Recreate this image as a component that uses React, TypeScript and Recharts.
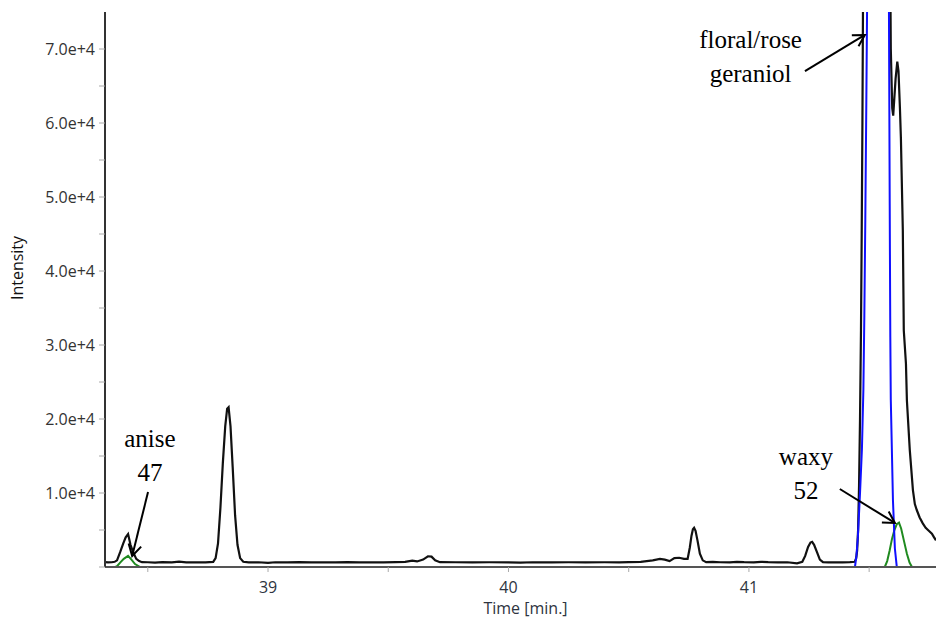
import React from "react";
import {
  LineChart,
  Line,
  XAxis,
  YAxis,
  ReferenceLine,
  ReferenceDot,
} from "recharts";

// [time (min), intensity]
const blackTrace: [number, number][] = [
  [38.322, 650], [38.335, 620], [38.35, 640], [38.362, 700], [38.372, 900],
  [38.385, 2000], [38.398, 3200], [38.408, 4000], [38.418, 4450], [38.428, 3000],
  [38.439, 2000], [38.452, 1100], [38.464, 800], [38.476, 650], [38.5, 640],
  [38.53, 600], [38.56, 650], [38.6, 620], [38.63, 720], [38.66, 620],
  [38.7, 640], [38.74, 620], [38.772, 700], [38.782, 1200], [38.792, 3200],
  [38.802, 8000], [38.812, 14000], [38.822, 19000], [38.83, 21400], [38.836, 21600],
  [38.844, 19000], [38.853, 13500], [38.863, 7000], [38.873, 3000], [38.884, 1200],
  [38.897, 700], [38.92, 620], [38.96, 640], [39.0, 560], [39.03, 640],
  [39.08, 620], [39.13, 660], [39.18, 620], [39.23, 640], [39.28, 620],
  [39.33, 650], [39.38, 620], [39.43, 640], [39.48, 620], [39.53, 650],
  [39.57, 700], [39.6, 850], [39.62, 750], [39.645, 1000], [39.665, 1450],
  [39.68, 1400], [39.695, 900], [39.715, 650], [39.78, 640], [39.85, 620],
  [39.92, 640], [40.0, 630], [40.05, 600], [40.1, 640], [40.18, 620],
  [40.25, 640], [40.32, 620], [40.4, 640], [40.46, 620], [40.5, 650],
  [40.55, 700], [40.6, 900], [40.63, 1100], [40.65, 1000], [40.67, 800],
  [40.69, 1200], [40.71, 1250], [40.73, 1100], [40.745, 1100], [40.754, 2600],
  [40.761, 4200], [40.767, 5100], [40.772, 5300], [40.778, 4900], [40.786, 3600],
  [40.796, 1800], [40.808, 900], [40.822, 650], [40.85, 700], [40.88, 640],
  [40.92, 620], [40.95, 700], [40.98, 650], [41.02, 620], [41.05, 700],
  [41.08, 650], [41.12, 620], [41.16, 640], [41.2, 500], [41.222, 700],
  [41.234, 1500], [41.246, 2700], [41.256, 3300], [41.263, 3400], [41.271, 3000],
  [41.283, 2000], [41.295, 1000], [41.308, 650], [41.33, 620], [41.36, 640],
  [41.39, 620], [41.42, 650], [41.44, 700], [41.446, 1200], [41.45, 2200],
  [41.454, 5000], [41.458, 11000], [41.462, 20000], [41.466, 32000], [41.469, 45000],
  [41.472, 60000], [41.475, 80000], [41.48, 130000], [41.5, 260000], [41.53, 320000],
  [41.56, 260000], [41.575, 200000], [41.586, 90000], [41.59, 70000], [41.596, 62000],
  [41.6, 61000], [41.61, 66000], [41.617, 68300], [41.622, 67000], [41.628, 62000],
  [41.632, 58000], [41.64, 45500], [41.644, 32000], [41.653, 27500], [41.657, 22500],
  [41.669, 15800], [41.682, 10400], [41.69, 8500], [41.698, 7700], [41.71, 6700],
  [41.723, 5900], [41.735, 5300], [41.748, 4900], [41.761, 4500], [41.77, 4000],
  [41.778, 3600],
];

const blueTrace: [number, number][] = [
  [41.43, 0], [41.441, 0], [41.447, 1500], [41.453, 4000], [41.462, 10000],
  [41.47, 16000], [41.476, 24000], [41.48, 34000], [41.484, 47000], [41.488, 62000],
  [41.492, 78000], [41.5, 150000], [41.53, 400000], [41.56, 180000], [41.575, 110000],
  [41.582, 78000], [41.586, 45000], [41.588, 31000], [41.59, 22600], [41.599, 9000],
  [41.607, 2500], [41.615, 0], [41.625, 0],
];

const greenAnise: [number, number][] = [
  [38.365, 0], [38.372, 100], [38.385, 600], [38.4, 1100], [38.418, 1500],
  [38.432, 1000], [38.447, 400], [38.468, 0], [38.475, 0],
];

const greenWaxy: [number, number][] = [
  [41.56, 0], [41.565, 0], [41.575, 800], [41.585, 2200], [41.595, 3800],
  [41.605, 5000], [41.615, 5800], [41.624, 6000], [41.633, 5200], [41.645, 3500],
  [41.657, 1800], [41.668, 600], [41.678, 0], [41.685, 0],
];

const xTicks = [38.5, 39, 39.5, 40, 40.5, 41, 41.5];
const yTicks = [0, 5000, 10000, 15000, 20000, 25000, 30000, 35000, 40000, 45000, 50000, 55000, 60000, 65000, 70000];

// label anchor [t, v], lines; arrow tail/tip [t, v]
const annotations = [
  { lines: ["anise", "47"], at: [38.509, 16200], tail: [38.501, 10130], tip: [38.435, 1490] },
  { lines: ["floral/rose", "geraniol"], at: [41.007, 70100], tail: [41.233, 67000], tip: [41.482, 71900] },
  { lines: ["waxy", "52"], at: [41.237, 13780], tail: [41.378, 10540], tip: [41.607, 5950] },
];

const toRows = (pts: [number, number][]) => pts.map(([t, v]) => ({ t, v }));

function Arrow(props: any) {
  const { x1, y1, x2, y2 } = props;
  const ang = Math.atan2(y2 - y1, x2 - x1);
  const len = 13;
  const spread = 0.52;
  const a1 = ang + Math.PI - spread;
  const a2 = ang + Math.PI + spread;
  return (
    <g stroke="#000" strokeWidth={2} fill="none">
      <line x1={x1} y1={y1} x2={x2} y2={y2} />
      <polyline
        points={`${x2 + len * Math.cos(a1)},${y2 + len * Math.sin(a1)} ${x2},${y2} ${x2 + len * Math.cos(a2)},${y2 + len * Math.sin(a2)}`}
      />
    </g>
  );
}

const font = "'Open Sans', 'Noto Sans', sans-serif";

export default function App() {
  return (
    <div style={{ position: "absolute", left: 0, top: 0, width: 937, height: 619, background: "#fff" }}>
      <LineChart width={937} height={619} margin={{ top: 12, right: 1, left: 0, bottom: 0 }}>
        <XAxis
          type="number"
          dataKey="t"
          domain={[38.322, 41.778]}
          allowDataOverflow
          ticks={xTicks}
          tickFormatter={(v: number) => (Number.isInteger(v) ? String(v) : "")}
          height={52}
          tickSize={5}
          tickMargin={10}
          axisLine={{ stroke: "#555", strokeWidth: 2 }}
          tickLine={{ stroke: "#aaa" }}
          tick={{ fill: "#2e3440", fontSize: 16, fontFamily: font }}
          label={{
            content: ({ viewBox }: any) => (
              <text x={viewBox.x + viewBox.width / 2 + 5} y={viewBox.y + 47} textAnchor="middle" fill="#2e3440" fontSize={16} fontFamily={font}>
                Time [min.]
              </text>
            ),
          }}
        />
        <YAxis
          type="number"
          domain={[0, 75000]}
          allowDataOverflow
          ticks={yTicks}
          tickFormatter={(v: number) => (v > 0 && v % 10000 === 0 ? `${(v / 10000).toFixed(1)}e+4` : "")}
          width={105}
          tickSize={6}
          tickMargin={4}
          axisLine={{ stroke: "#333", strokeWidth: 2 }}
          tickLine={{ stroke: "#aaa" }}
          tick={{ fill: "#333", fontSize: 16, fontFamily: font }}
          label={{
            content: () => (
              <text x={23} y={268} transform="rotate(-90, 23, 268)" textAnchor="middle" fill="#111" fontSize={16} fontFamily={font}>
                Intensity
              </text>
            ),
          }}
        />
        <Line data={toRows(greenAnise)} dataKey="v" stroke="#1f8a1f" strokeWidth={2} dot={false} isAnimationActive={false} />
        <Line data={toRows(greenWaxy)} dataKey="v" stroke="#1f8a1f" strokeWidth={2} dot={false} isAnimationActive={false} />
        <Line data={toRows(blackTrace)} dataKey="v" stroke="#111" strokeWidth={2.2} dot={false} isAnimationActive={false} />
        <Line data={toRows(blueTrace)} dataKey="v" stroke="#1010ff" strokeWidth={2} dot={false} isAnimationActive={false} />
        {annotations.map((a) => (
          <ReferenceLine
            key={`arrow-${a.lines[0]}`}
            segment={[{ x: a.tail[0], y: a.tail[1] }, { x: a.tip[0], y: a.tip[1] }]}
            ifOverflow="visible"
            shape={(p: any) => <Arrow {...p} />}
          />
        ))}
        {annotations.map((a) => (
          <ReferenceDot
            key={`text-${a.lines[0]}`}
            x={a.at[0]}
            y={a.at[1]}
            ifOverflow="visible"
            shape={(p: any) => (
              <text x={p.cx} y={p.cy} textAnchor="middle" fontFamily="'Liberation Serif', 'Times New Roman', serif" fontSize={25} fill="#000">
                {a.lines.map((l, i) => (
                  <tspan key={l} x={p.cx} dy={i === 0 ? 0 : 34}>
                    {l}
                  </tspan>
                ))}
              </text>
            )}
          />
        ))}
      </LineChart>
    </div>
  );
}
